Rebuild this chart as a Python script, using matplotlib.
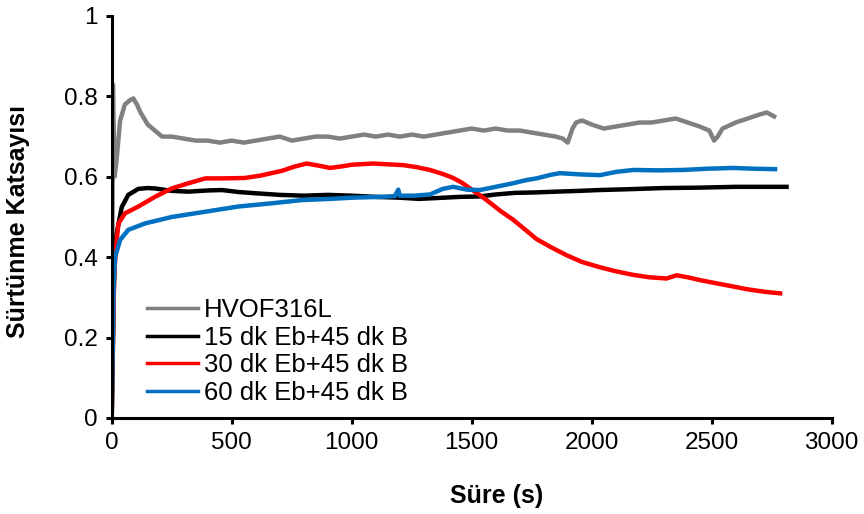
import matplotlib
matplotlib.use("Agg")
import matplotlib.pyplot as plt

plt.rcParams["font.family"] = ["Liberation Sans", "DejaVu Sans"]

# HVOF316L
t_gray = [0, 5, 12, 20, 35, 55, 75, 90, 105, 120, 150, 180, 210, 250, 300, 350, 400, 450,
          500, 550, 600, 650, 700, 750, 800, 850, 900, 950, 1000, 1050, 1100, 1150, 1200,
          1250, 1300, 1350, 1400, 1450, 1500, 1550, 1600, 1650, 1700, 1750, 1800, 1850,
          1880, 1900, 1920, 1935, 1960, 2000, 2050, 2100, 2150, 2200, 2250, 2300, 2350,
          2400, 2450, 2490, 2510, 2525, 2545, 2600, 2650, 2700, 2730, 2760]
v_gray = [0.0, 0.83, 0.60, 0.64, 0.74, 0.78, 0.79, 0.795, 0.78, 0.76, 0.73, 0.715, 0.70,
          0.70, 0.695, 0.69, 0.69, 0.685, 0.69, 0.685, 0.69, 0.695, 0.70, 0.69, 0.695, 0.70,
          0.70, 0.695, 0.70, 0.705, 0.70, 0.705, 0.70, 0.705, 0.70, 0.705, 0.71, 0.715,
          0.72, 0.715, 0.72, 0.715, 0.715, 0.71, 0.705, 0.70, 0.695, 0.685, 0.72, 0.735,
          0.74, 0.73, 0.72, 0.725, 0.73, 0.735, 0.735, 0.74, 0.745, 0.735, 0.725, 0.715,
          0.69, 0.70, 0.72, 0.735, 0.745, 0.755, 0.76, 0.75]

# 15 dk Eb+45 dk B
t_black = [0, 8, 14, 21, 42, 69, 111, 150, 180, 250, 320, 400, 460, 530, 600, 700, 800,
           900, 1000, 1100, 1200, 1280, 1350, 1450, 1530, 1600, 1680, 1760, 1850, 1950,
           2030, 2150, 2300, 2450, 2600, 2700, 2812]
v_black = [0.0, 0.30, 0.43, 0.46, 0.525, 0.555, 0.57, 0.572, 0.571, 0.565, 0.563, 0.566,
           0.567, 0.562, 0.559, 0.555, 0.553, 0.555, 0.553, 0.550, 0.548, 0.545, 0.547,
           0.550, 0.551, 0.556, 0.560, 0.561, 0.563, 0.565, 0.567, 0.569, 0.572, 0.573,
           0.575, 0.575, 0.575]

# 30 dk Eb+45 dk B
t_red = [0, 10, 18, 28, 55, 111, 180, 250, 320, 390, 460, 555, 620, 666, 710, 760, 812,
         860, 910, 960, 1000, 1090, 1150, 1215, 1270, 1326, 1380, 1423, 1460, 1493, 1530,
         1562, 1620, 1673, 1720, 1770, 1830, 1895, 1960, 2034, 2100, 2173, 2240, 2312,
         2354, 2400, 2451, 2520, 2590, 2650, 2720, 2785]
v_red = [0.0, 0.35, 0.426, 0.484, 0.509, 0.526, 0.55, 0.571, 0.584, 0.596, 0.596, 0.597,
         0.603, 0.609, 0.615, 0.625, 0.633, 0.628, 0.622, 0.626, 0.630, 0.633, 0.631,
         0.629, 0.624, 0.617, 0.607, 0.597, 0.585, 0.571, 0.556, 0.542, 0.515, 0.493,
         0.470, 0.445, 0.425, 0.405, 0.388, 0.375, 0.365, 0.356, 0.350, 0.347, 0.355,
         0.350, 0.343, 0.335, 0.327, 0.320, 0.314, 0.310]

# 60 dk Eb+45 dk B
t_blue = [0, 8, 14, 35, 69, 139, 250, 389, 527, 666, 791, 910, 1000, 1118, 1180, 1194,
          1200, 1260, 1326, 1380, 1423, 1480, 1534, 1600, 1673, 1729, 1770, 1830, 1868,
          1950, 2034, 2100, 2173, 2280, 2381, 2480, 2590, 2680, 2764]
v_blue = [0.0, 0.33, 0.40, 0.443, 0.468, 0.484, 0.50, 0.513, 0.526, 0.534, 0.542, 0.545,
          0.548, 0.550, 0.552, 0.568, 0.553, 0.553, 0.556, 0.570, 0.575, 0.568, 0.567,
          0.575, 0.584, 0.592, 0.596, 0.605, 0.609, 0.606, 0.604, 0.612, 0.617, 0.616,
          0.617, 0.620, 0.622, 0.620, 0.619]

series = [
    ("HVOF316L", t_gray, v_gray, "#808080"),
    ("15 dk Eb+45 dk B", t_black, v_black, "#000000"),
    ("30 dk Eb+45 dk B", t_red, v_red, "#ff0000"),
    ("60 dk Eb+45 dk B", t_blue, v_blue, "#0070c0"),
]

fig = plt.figure(figsize=(8.64, 5.14), dpi=100)
ax = fig.add_axes([0.1293, 0.1868, 0.8333, 0.7821])

for name, t, v, c in series:
    ax.plot(t, v, color=c, lw=3.2, label=name, solid_joinstyle="round")

ax.set_xlim(0, 3000)
ax.set_ylim(0, 1)
ax.set_xticks([0, 500, 1000, 1500, 2000, 2500, 3000])
ax.set_yticks([0, 0.2, 0.4, 0.6, 0.8, 1])
ax.set_yticklabels(["0", "0.2", "0.4", "0.6", "0.8", "1"])

for side in ["top", "right"]:
    ax.spines[side].set_visible(False)
for side in ["left", "bottom"]:
    ax.spines[side].set_linewidth(2.2)
ax.tick_params(direction="out", length=4, width=2.2, labelsize=17.5, pad=6)

ax.set_xlabel("Süre (s)", fontsize=18, fontweight="bold")
ax.set_ylabel("Sürtünme Katsayısı", fontsize=18, fontweight="bold")
ax.xaxis.set_label_coords(0.535, -0.165)
ax.yaxis.set_label_coords(-0.113, 0.488)

leg = ax.legend(loc="upper left", bbox_to_anchor=(0.049, 0.298), frameon=False,
                fontsize=18.5, handlelength=2.0, handletextpad=0.2, labelspacing=0.14,
                borderpad=0, borderaxespad=0)
for line in leg.get_lines():
    line.set_linewidth(2.5)

fig.savefig("out.png", dpi=100)
